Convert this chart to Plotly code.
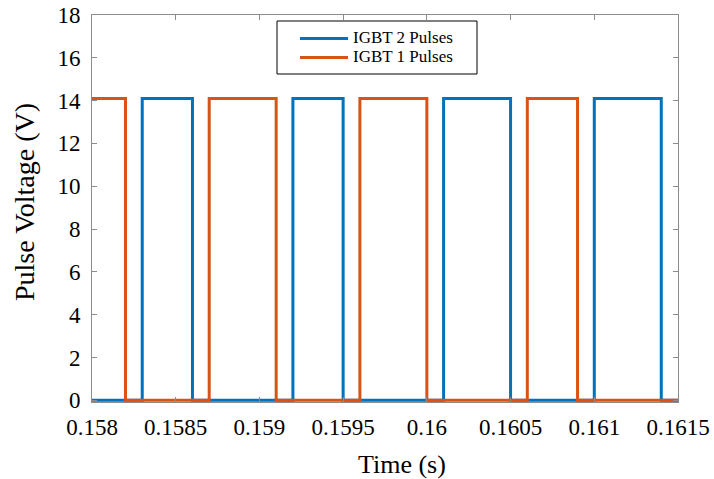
import plotly.graph_objects as go

# Gate pulse switching instants (s) and voltage levels (V), held until the next instant
igbt2_t = [0.158, 0.1583, 0.1586, 0.1592, 0.1595, 0.1601, 0.1605, 0.1610, 0.1614, 0.1615]
igbt2_v = [0, 14.1, 0, 14.1, 0, 14.1, 0, 14.1, 0, 0]

igbt1_t = [0.158, 0.1582, 0.1587, 0.1591, 0.1596, 0.1600, 0.1606, 0.1609, 0.1615]
igbt1_v = [14.1, 0, 14.1, 0, 14.1, 0, 14.1, 0, 0]

x_ticks = [0.158, 0.1585, 0.159, 0.1595, 0.16, 0.1605, 0.161, 0.1615]
x_tick_text = ["0.158", "0.1585", "0.159", "0.1595", "0.16", "0.1605", "0.161", "0.1615"]
y_ticks = list(range(0, 19, 2))

SERIF = "Liberation Serif, Times New Roman, serif"
AXIS_GREY = "#8c8c8c"

# plot-area geometry in pixels
PL, PR, PT, PB = 92, 678, 15, 402
PW, PH = PR - PL, PB - PT


def legend_label(text):
    # larger glyphs while keeping compact legend rows
    return f'<span style="font-size:17px">{text}</span>'


fig = go.Figure()
fig.add_trace(go.Scatter(x=igbt2_t, y=igbt2_v, mode="lines", line_shape="hv",
                         line=dict(color="#0072BD", width=3), name=legend_label("IGBT 2 Pulses")))
fig.add_trace(go.Scatter(x=igbt1_t, y=igbt1_v, mode="lines", line_shape="hv",
                         line=dict(color="#D95319", width=3), name=legend_label("IGBT 1 Pulses")))

axis_common = dict(showline=True, linecolor=AXIS_GREY, linewidth=1, mirror="ticks",
                   ticks="inside", ticklen=5, tickcolor=AXIS_GREY, tickwidth=1,
                   showgrid=False, zeroline=False, automargin=False,
                   tickfont=dict(family=SERIF, size=23, color="black"))

fig.update_xaxes(range=[0.158, 0.1615], tickvals=x_ticks, ticktext=x_tick_text,
                 ticklabelstandoff=4, **axis_common)
fig.update_yaxes(range=[-0.08, 18], tickvals=y_ticks,
                 ticklabelstandoff=6, **axis_common)

# axis titles
fig.add_annotation(text="Time (s)", xref="paper", yref="paper",
                   x=(402 - PL) / PW, y=(PB - 464) / PH, xanchor="center", yanchor="middle",
                   showarrow=False, font=dict(family=SERIF, size=26, color="black"))
fig.add_annotation(text="Pulse Voltage (V)", xref="paper", yref="paper", textangle=-90,
                   x=(24 - PL) / PW, y=(PB - 202) / PH, xanchor="center", yanchor="middle",
                   showarrow=False, font=dict(family=SERIF, size=28, color="black"))

# legend frame
fig.add_shape(type="rect", xref="paper", yref="paper",
              x0=(277 - PL) / PW, x1=(477 - PL) / PW,
              y0=(PB - 74) / PH, y1=(PB - 21) / PH,
              line=dict(color="black", width=1), fillcolor="white", layer="above")

fig.update_layout(
    width=714, height=479,
    margin=dict(l=PL, r=714 - PR, t=PT, b=479 - PB),
    paper_bgcolor="white", plot_bgcolor="white",
    showlegend=True,
    legend=dict(x=(295 - PL) / PW, y=(PB - 24) / PH, xanchor="left", yanchor="top",
                bgcolor="rgba(0,0,0,0)", borderwidth=0, itemwidth=48,
                font=dict(family=SERIF, size=12, color="black"), tracegroupgap=0),
)

fig.write_html("out.html")
